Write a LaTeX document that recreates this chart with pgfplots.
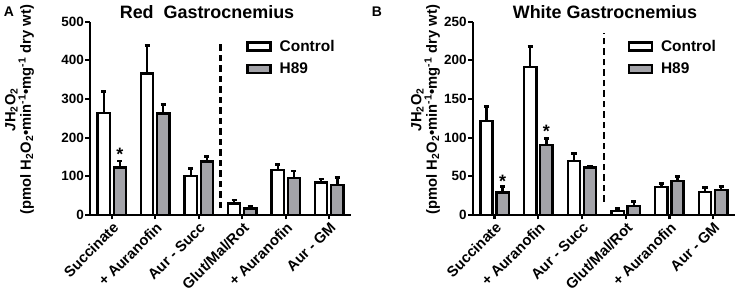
\documentclass[border=0pt]{standalone}
\usepackage{pgfplots}
\usepackage{pgfplotstable}
\pgfplotsset{compat=1.18}
\usepackage{fontspec}
\setmainfont{Liberation Sans}
\definecolor{hgray}{RGB}{163,163,168}

\pgfplotstableread{
x y e
0 264 56
1 366 73
2 101 20
3 30 9
4 116 15
5 84.5 8.5
}\redctrl
\pgfplotstableread{
x y e
0 123 16.5
1 263 23
2 138 13
3 17 4
4 95 19
5 77.5 19.5
}\redh
\pgfplotstableread{
x y e
0 121.4 18.6
1 191.6 26.4
2 70.2 9.5
3 5.2 3.4
4 36.6 4.4
5 30 5.3
}\whitectrl
\pgfplotstableread{
x y e
0 29.3 7.3
1 90.4 8.6
2 61.6 1.7
3 12 5.2
4 44.3 5.2
5 32.3 4.3
}\whiteh

\pgfplotsset{
 ctrlleg/.style={legend image code/.code={\draw[fill=white,draw=black,line width=2.4bp] (0bp,-4bp) rectangle (23bp,4bp);}},
 h89leg/.style={legend image code/.code={\draw[fill=hgray,draw=black,line width=2.4bp] (0bp,-4bp) rectangle (23bp,4bp);}},
 mybar/.style={ybar, bar width=0.28, bar shift=0, line width=2.4bp, draw=black, mark=none,
   error bars/y dir=plus, error bars/y explicit,
   error bars/error bar style={line width=2.4bp, black},
   error bars/error mark options={rotate=90, mark size=2.6bp, line width=2.8bp, black}},
 mybase/.style={
   scale only axis, height=193.3bp,
   axis lines*=left, axis line style={line width=2.2bp},
   xmin=-0.5, xmax=5.5, ymin=0,
   xtick={0,...,5},
   xticklabels={Succinate, + Auranofin, Aur - Succ, Glut/Mal/Rot, + Auranofin, Aur - GM},
   tick align=outside, major tick length=4.5bp,
   tick style={line width=2.2bp, black},
   x tick label style={rotate=45, anchor=north east, inner sep=1bp, font=\bfseries\fontsize{14.8}{17}\selectfont},
   y tick label style={inner sep=1.5bp, font=\bfseries\fontsize{13.5}{15}\selectfont},
   /pgf/number format/assume math mode=true,
   clip=false,
   legend style={draw=none, fill=none, font=\bfseries\fontsize{15.5}{17}\selectfont,
     anchor=north west, legend cell align=left, inner sep=0pt, row sep=6bp, column sep=6bp},
   ylabel style={align=center, anchor=center, font=\bfseries\fontsize{14.8}{14.5}\selectfont},
 }
}

\begin{document}
\begin{tikzpicture}
\useasboundingbox (0,0) rectangle (737bp,293bp);
\begin{axis}[mybase, at={(90bp,78bp)}, anchor=south west, width=261bp,
  ymax=500, ytick={0,100,...,500},
  legend style={at={(axis description cs:0.598,0.915)}},
  ylabel={\textit{J}H\textsubscript{2}O\textsubscript{2}\\(pmol H\textsubscript{2}O\textsubscript{2}•min\textsuperscript{-1}•mg\textsuperscript{-1} dry wt)},
  ylabel style={at={(axis description cs:-0.27,0.545)}}]
\addplot[mybar, fill=white, ctrlleg] table[x expr=\thisrow{x}-0.185,y=y,y error=e] {\redctrl};
\addplot[mybar, fill=hgray, h89leg] table[x expr=\thisrow{x}+0.185,y=y,y error=e] {\redh};
\legend{Control, H89}
\draw[line width=2.4bp, dash pattern=on 6.5bp off 4bp] (axis cs:2.5,18) -- (axis cs:2.5,452);
\node[font=\bfseries\fontsize{18}{18}\selectfont] at (axis cs:0.185,156) {*};
\end{axis}
\begin{axis}[mybase, at={(472.7bp,78bp)}, anchor=south west, width=262.3bp,
  ymax=250, ytick={0,50,...,250},
  legend style={at={(axis description cs:0.59,0.915)}},
  ylabel={\textit{J}H\textsubscript{2}O\textsubscript{2}\\(pmol H\textsubscript{2}O\textsubscript{2}•min\textsuperscript{-1}•mg\textsuperscript{-1} dry wt)},
  ylabel style={at={(axis description cs:-0.18,0.545)}}]
\addplot[mybar, fill=white, ctrlleg] table[x expr=\thisrow{x}-0.185,y=y,y error=e] {\whitectrl};
\addplot[mybar, fill=hgray, h89leg] table[x expr=\thisrow{x}+0.185,y=y,y error=e] {\whiteh};
\legend{Control, H89}
\draw[line width=2.4bp, dash pattern=on 6.5bp off 4bp] (axis cs:2.5,17) -- (axis cs:2.5,235);
\node[font=\bfseries\fontsize{18}{18}\selectfont] at (axis cs:0.185,44) {*};
\node[font=\bfseries\fontsize{18}{18}\selectfont] at (axis cs:1.185,108) {*};
\end{axis}
\node[font=\bfseries\fontsize{18}{20}\selectfont] at (207bp,281bp) {Red\ \ Gastrocnemius};
\node[font=\bfseries\fontsize{18}{20}\selectfont] at (605bp,281bp) {White Gastrocnemius};
\node[font=\bfseries\fontsize{14}{16}\selectfont] at (9bp,281bp) {A};
\node[font=\bfseries\fontsize{14}{16}\selectfont] at (377bp,281bp) {B};
\end{tikzpicture}
\end{document}
